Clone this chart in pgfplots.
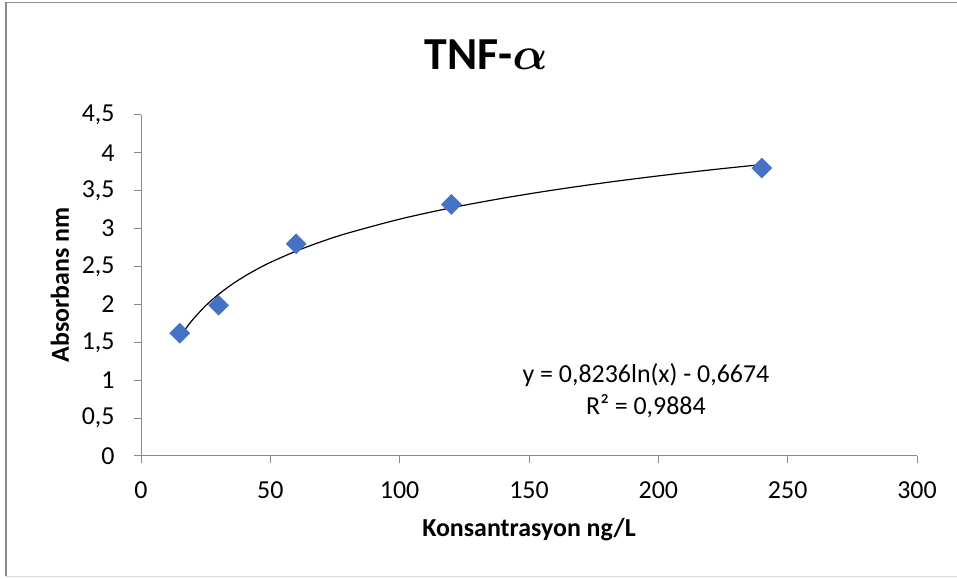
\RequirePackage{fix-cm}
\documentclass[border=0pt]{standalone}
\usepackage{amsmath}
\usepackage{pgfplots}
\pgfplotsset{compat=1.18}
\usepackage{fontspec}
\setmainfont{Carlito}
\definecolor{mblue}{HTML}{4472C4}
\definecolor{axgray}{HTML}{898989}
\definecolor{bordgray}{HTML}{8C8C8C}
\definecolor{lightgray}{HTML}{D9D9D9}
\newcommand{\titlefont}{\fontsize{46}{50}\selectfont\bfseries}
\newcommand{\lblfont}{\fontsize{26}{30}\selectfont\bfseries}
\newcommand{\tkfont}{\fontsize{26}{30}\selectfont}
\newcommand{\eqfont}{\fontsize{26}{32}\selectfont}
\begin{document}
\begin{tikzpicture}[x=1bp,y=1bp]
\path[use as bounding box] (0,0) rectangle (957,579);
\draw[bordgray, line width=1.3bp] (6,2.5) -- (6,576.5) -- (957,576.5);
\draw[lightgray, line width=1.2bp] (6,2.5) -- (957,2.5);
\node[font=\titlefont] at (486,524) {TNF-$\boldsymbol{\alpha}$};
\begin{axis}[
  at={(141bp,123bp)}, anchor=south west,
  scale only axis, width=776bp, height=341bp,
  xmin=0, xmax=300, ymin=0, ymax=4.5,
  xtick={0,50,100,150,200,250,300},
  ytick={0,0.5,1,1.5,2,2.5,3,3.5,4,4.5},
  axis x line*=bottom, axis y line*=left,
  tick align=outside, major tick length=7bp,
  axis line style={axgray, line width=1bp},
  tick style={axgray, line width=1bp},
  ticklabel style={font=\tkfont, text=black},
  xticklabel style={yshift=-15bp},
  yticklabel style={xshift=-16bp},
  /pgf/number format/use comma,
  /pgf/number format/1000 sep={},
  /pgf/number format/assume math mode=true,
  clip=false,
]
\addplot[black, line width=1.2bp, smooth] coordinates {
  (15,1.5630) (17.5,1.6899) (20,1.7999) (25,1.9837) (30,2.1338) (35,2.2608)
  (40,2.3708) (45,2.4678) (50,2.5545) (60,2.7047) (70,2.8317) (80,2.9416)
  (100,3.1254) (120,3.2756) (140,3.4025) (160,3.5125) (180,3.6095)
  (200,3.6963) (220,3.7748) (240,3.8465)
};
\addplot[only marks, mark=square*, mark size=7.1bp,
  mark options={fill=mblue, draw=mblue, rotate=45}] coordinates {
  (15,1.62) (30,1.99) (60,2.80) (120,3.32) (240,3.80)
};
\node[align=center, font=\eqfont] at (axis cs:195.2,0.86)
  {y = 0,8236ln(x) - 0,6674\\R² = 0,9884};
\end{axis}
\node[font=\lblfont] at (529,49) {Konsantrasyon ng/L};
\node[font=\lblfont, rotate=90] at (60,294) {Absorbans nm};
\end{tikzpicture}
\end{document}
